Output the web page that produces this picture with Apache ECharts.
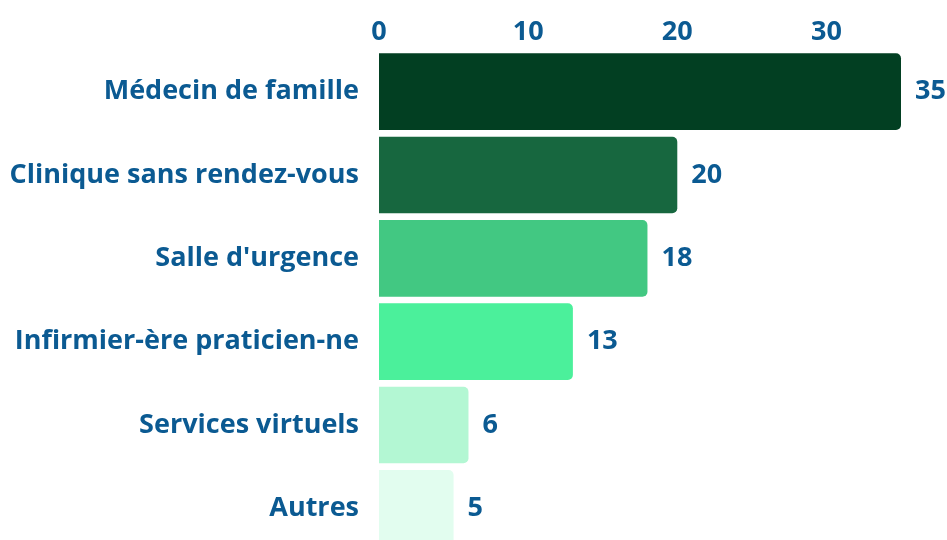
<!DOCTYPE html>
<html>
<head>
<meta charset="utf-8">
<script src="https://cdn.jsdelivr.net/npm/echarts@6/dist/echarts.min.js"></script>
<style>
html, body { margin: 0; padding: 0; background: #fff; }
#chart { width: 947px; height: 540px; }
</style>
</head>
<body>
<div id="chart"></div>
<script>
var categories = ['Médecin de famille', 'Clinique sans rendez-vous', "Salle d'urgence", 'Infirmier-ère praticien-ne', 'Services virtuels', 'Autres'];
var values = [35, 20, 18, 13, 6, 5];
var barColors = ['#023F22', '#17673F', '#42C882', '#4BF09B', '#B3F7D3', '#E2FDEF'];
var xTicks = [0, 10, 20, 30];

var textColor = '#0B5A92';
var font = '"Open Sans", sans-serif';

var myChart = echarts.init(document.getElementById('chart'));
myChart.setOption({
    animation: false,
    grid: {
        left: 379,
        width: 522,
        top: 50,
        height: 500,
        containLabel: false,
        outerBoundsMode: 'none'
    },
    xAxis: {
        type: 'value',
        position: 'top',
        min: 0,
        max: 35,
        interval: 10,
        splitLine: { show: false },
        axisLine: { show: false },
        axisTick: { show: false },
        axisLabel: {
            color: textColor,
            fontFamily: font,
            fontWeight: 'bold',
            fontSize: 27,
            margin: 4,
            showMaxLabel: false,
            formatter: function (v) {
                return xTicks.indexOf(v) >= 0 ? String(v) : '';
            }
        }
    },
    yAxis: {
        type: 'category',
        inverse: true,
        data: categories,
        axisLine: { show: false },
        axisTick: { show: false },
        axisLabel: {
            color: textColor,
            fontFamily: font,
            fontWeight: 'bold',
            fontSize: 27,
            margin: 20,
            padding: [4, 0, 0, 0]
        }
    },
    series: [{
        type: 'bar',
        barCategoryGap: '8%',
        data: values.map(function (v, i) {
            return { value: v, itemStyle: { color: barColors[i] } };
        }),
        itemStyle: {
            borderRadius: [0, 5, 5, 0]
        },
        label: {
            show: true,
            position: 'right',
            distance: 14,
            color: textColor,
            fontFamily: font,
            fontWeight: 'bold',
            fontSize: 27,
            padding: [4, 0, 0, 0]
        }
    }]
});
</script>
</body>
</html>
